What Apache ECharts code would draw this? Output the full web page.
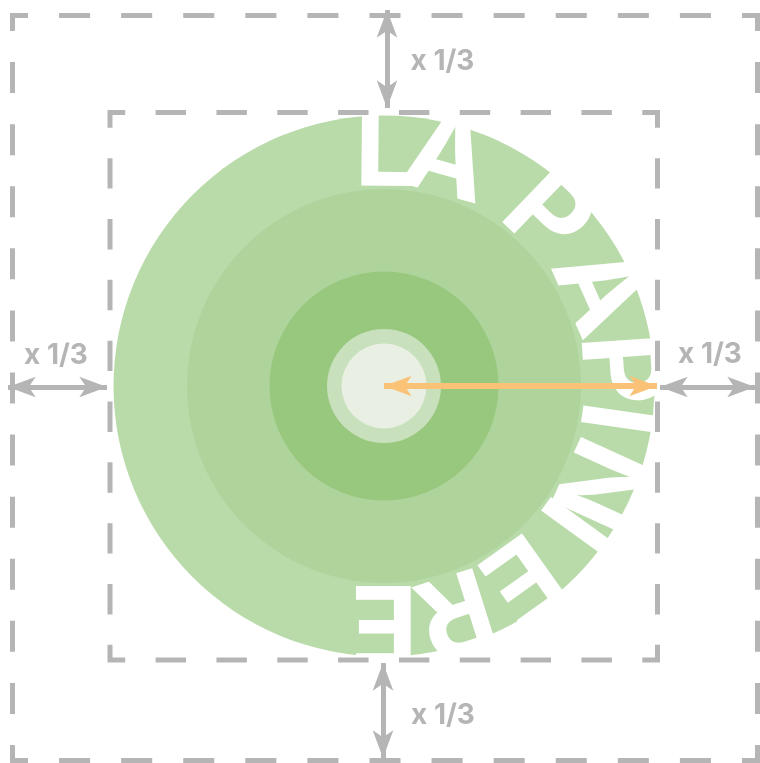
<!DOCTYPE html>
<html>
<head>
<meta charset="utf-8">
<script src="https://cdn.jsdelivr.net/npm/echarts@6/dist/echarts.min.js"></script>
<style>html,body{margin:0;padding:0;background:#fff}#main{width:760px;height:763px}</style>
</head>
<body>
<div id="main"></div>
<script>
// ---- data ----
const ringRadii = [270.5, 197, 114.5, 57, 42.5];
const letters = ['L', 'A', 'P', 'A', 'P', 'I', 'N', 'I', 'E', 'R', 'E'];
const letterAngles = [0.5, 15.5, 44, 66, 86, 98, 114.5, 126, 144.5, 162.5, 180];
const ratioLabels = ['x 1/3', 'x 1/3', 'x 1/3', 'x 1/3'];

// ---- styles / layout ----
const ringColors = ['#B9DBAA', '#AED49C', '#98C77E', '#C9E0BD', '#E9F0E3'];
const CX = 384, CY = 386;
const letterRadius = 234;
const gray = '#B5B5B5';
const orange = '#FAC277';
const headW = 15.5, headL = 27.7;

function frame(l, t, r, b) {
  const mx = (l + r) / 2;
  return [[mx, t], [r, t], [r, b], [l, b], [l, t], [mx, t]];
}

const guideArrows = [
  [[387, 10], [387, 108]],
  [[8, 387], [107, 387]],
  [[660, 387], [755, 387]],
  [[383, 663], [383, 758]]
];
const radiusArrow = [[CX, 386], [657, 386]];

const outerD = 745 / 24, innerD = 547.5 / 18;

const series = [];
ringRadii.forEach((r, i) => {
  series.push({
    type: 'pie',
    center: [CX, CY],
    radius: [0, r],
    silent: true,
    z: i === 0 ? 1 : 3,
    label: { show: false },
    labelLine: { show: false },
    itemStyle: { color: ringColors[i], borderWidth: 0 },
    data: [{ value: 1 }]
  });
});
series.push({
  type: 'scatter',
  coordinateSystem: 'polar',
  z: 2,
  silent: true,
  symbolSize: 1,
  itemStyle: { color: 'rgba(0,0,0,0)', opacity: 1 },
  data: letters.map((ch, i) => ({
    value: [letterRadius, letterAngles[i]],
    label: { formatter: ch, rotate: -letterAngles[i] }
  })),
  label: {
    show: true,
    position: 'inside',
    color: '#ffffff',
    opacity: 1,
    fontFamily: 'Inter',
    fontWeight: 700,
    fontSize: 112,
    align: 'center',
    verticalAlign: 'middle'
  }
});
series.push({
  type: 'lines',
  coordinateSystem: 'cartesian2d',
  polyline: true,
  silent: true,
  z: 4,
  symbol: 'none',
  lineStyle: { color: gray, width: 5, type: [outerD, outerD], dashOffset: outerD / 2, join: 'miter', cap: 'butt', opacity: 1 },
  data: [{ coords: frame(12.5, 15.5, 757.5, 760.5) }]
});
series.push({
  type: 'lines',
  coordinateSystem: 'cartesian2d',
  polyline: true,
  silent: true,
  z: 4,
  symbol: 'none',
  lineStyle: { color: gray, width: 5, type: [innerD, innerD], dashOffset: innerD * 1.5, join: 'miter', cap: 'butt', opacity: 1 },
  data: [{ coords: frame(110, 112.5, 657.5, 660) }]
});
series.push({
  type: 'lines',
  coordinateSystem: 'cartesian2d',
  silent: true,
  z: 5,
  symbol: ['arrow', 'arrow'],
  symbolSize: [[headW, headL], [headW, headL]],
  lineStyle: { color: gray, width: 5, opacity: 1 },
  data: guideArrows.map(c => ({ coords: c }))
});
series.push({
  type: 'lines',
  coordinateSystem: 'cartesian2d',
  silent: true,
  z: 6,
  symbol: ['arrow', 'arrow'],
  symbolSize: [[headW, headL], [headW, headL]],
  lineStyle: { color: orange, width: 6, opacity: 1 },
  data: [{ coords: radiusArrow }]
});

const labelPos = [[442.5, 62], [56, 356], [710, 355], [443, 716]];

const option = {
  animation: false,
  backgroundColor: '#ffffff',
  grid: { left: 0, top: 0, right: 0, bottom: 0 },
  xAxis: { type: 'value', min: 0, max: 760, show: false },
  yAxis: { type: 'value', min: 0, max: 763, inverse: true, show: false },
  polar: { center: [CX, CY], radius: ringRadii[0] },
  angleAxis: { type: 'value', min: 0, max: 360, startAngle: 90, clockwise: true, show: false },
  radiusAxis: { type: 'value', min: 0, max: ringRadii[0], show: false },
  graphic: ratioLabels.map((t, i) => ({
    type: 'text',
    x: labelPos[i][0],
    y: labelPos[i][1],
    z: 10,
    silent: true,
    style: {
      text: t,
      fill: gray,
      font: 'bold 28px Inter',
      textAlign: 'center',
      textVerticalAlign: 'middle'
    }
  })),
  series: series
};

const chart = echarts.init(document.getElementById('main'));
chart.setOption(option);
</script>
</body>
</html>
